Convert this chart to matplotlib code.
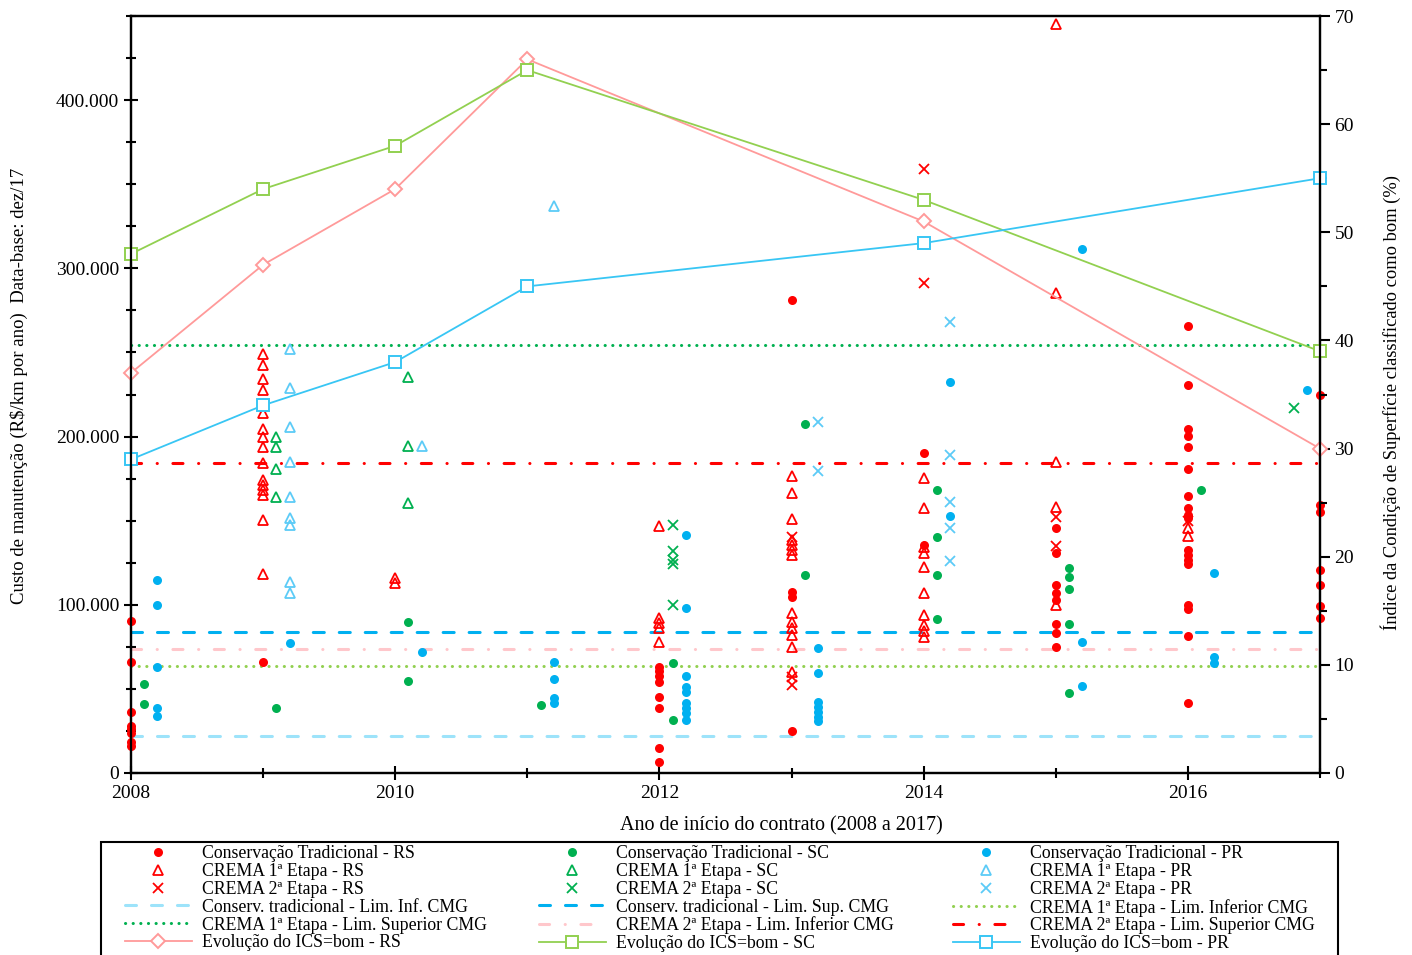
import matplotlib.pyplot as plt
from matplotlib.patches import Rectangle
from matplotlib.ticker import FuncFormatter, MultipleLocator

plt.rcParams['font.family'] = ['Liberation Serif', 'DejaVu Serif']

# custo de manutenção (milhares de R$/km por ano), por ano de início do contrato
rs_trad = {2008: [90.5, 66.1, 36.5, 28.2, 26.2, 23.6, 18.3, 16.3],
           2009: [66.1],
           2012: [63.1, 60.7, 57.7, 54.2, 45.2, 38.7, 14.9, 6.5],
           2013: [281.0, 107.7, 104.8, 25.0],
           2014: [190.5, 135.7],
           2015: [145.8, 131.0, 111.9, 107.1, 103.0, 88.7, 83.3, 75.0],
           2016: [265.5, 230.9, 204.2, 200.6, 194.0, 181.0, 164.9, 157.7, 153.6,
                  151.8, 132.7, 129.8, 126.8, 124.4, 100.0, 97.6, 81.5, 41.7],
           2017: [225.0, 159.5, 155.4, 120.8, 111.9, 99.4, 92.3]}
rs_crema1 = {2009: [248.8, 242.3, 234.5, 227.4, 219.6, 214.3, 204.2, 200.0, 194.0,
                    184.5, 174.4, 171.4, 168.5, 165.5, 150.6, 118.5],
             2010: [116.1, 113.1],
             2012: [147.0, 92.3, 89.3, 86.3, 78.0],
             2013: [176.8, 166.7, 151.2, 138.7, 135.7, 132.7, 129.8, 95.2, 89.9,
                    86.3, 82.1, 75.0, 60.1],
             2014: [175.6, 157.7, 134.5, 131.0, 122.6, 107.1, 94.0, 88.0, 84.5, 81.0],
             2015: [445.2, 285.1, 185.1, 158.3, 100.0],
             2016: [145.8, 141.1]}
rs_crema2 = {2013: [140.5, 57.1, 52.4],
             2014: [358.9, 291.0],
             2015: [152.4, 135.1],
             2016: [150.0]}

sc_trad = {2008: [52.8, 40.9],
           2009: [38.7],
           2010: [89.9, 54.8],
           2011: [40.5],
           2012: [65.5, 31.5],
           2013: [207.7, 117.9],
           2014: [168.5, 140.5, 117.5, 91.5],
           2015: [122.0, 116.7, 109.5, 88.7, 47.6],
           2016: [168.5]}
sc_crema1 = {2009: [200.0, 193.5, 181.0, 164.3],
             2010: [235.7, 194.6, 160.7]}
sc_crema2 = {2012: [147.6, 132.1, 126.8, 124.4, 100.0],
             2017: [216.7]}

pr_trad = {2008: [114.9, 99.6, 62.9, 38.5, 34.1],
           2009: [77.4],
           2010: [72.0],
           2011: [66.1, 56.0, 44.6, 41.7],
           2012: [141.7, 98.2, 57.7, 51.2, 48.2, 41.7, 38.7, 35.7, 31.5],
           2013: [74.4, 59.5, 42.3, 39.3, 36.3, 33.3, 31.0],
           2014: [232.7, 153.0],
           2015: [311.3, 78.0, 51.8],
           2016: [119.0, 69.0, 65.5],
           2017: [227.4]}
pr_crema1 = {2009: [251.8, 228.6, 205.4, 185.1, 164.3, 151.8, 147.6, 113.7, 107.1],
             2010: [194.6],
             2011: [336.9]}
pr_crema2 = {2013: [208.9, 179.8],
             2014: [267.9, 189.3, 161.3, 145.5, 125.9]}

# limites do custo médio global (CMG)
conserv_lim_inf = 22.0
conserv_lim_sup = 84.0
crema1_lim_inf = 63.5
crema1_lim_sup = 254.5
crema2_lim_inf = 74.0
crema2_lim_sup = 184.5

# ICS = bom (%)
ics_anos = [2008, 2009, 2010, 2011, 2014, 2017]
ics_rs = [37, 47, 54, 66, 51, 30]
ics_sc = [48, 54, 58, 65, 53, 39]
ics_pr = [29, 34, 38, 45, 49, 55]

RED = '#FF0000'
GREEN = '#00B050'
BLUE = '#00B0F0'
LBLUE = '#5CCBF7'


def pontos(serie, desloc):
    xs, ys = [], []
    for ano, vals in serie.items():
        d = desloc if ano < 2017 else (desloc - 0.3 if desloc else 0)
        xs += [ano + d] * len(vals)
        ys += vals
    return xs, ys


fig = plt.figure(figsize=(14.12, 9.55), dpi=100)
ax = fig.add_axes([0.0928, 0.1906, 0.8420, 0.7926])

hl = dict(lw=2.2, dash_capstyle='round', solid_capstyle='round')
h_cinf = ax.axhline(conserv_lim_inf, color='#9DE3FA', ls=(0, (3.6, 4.9)), **hl)
h_csup = ax.axhline(conserv_lim_sup, color=BLUE, ls=(0, (3.6, 4.9)), **hl)
h_c1inf = ax.axhline(crema1_lim_inf, color='#92D050', ls=(0, (0.05, 2.45)), **hl)
h_c1sup = ax.axhline(crema1_lim_sup, color=GREEN, ls=(0, (0.05, 2.45)), **hl)
h_c2inf = ax.axhline(crema2_lim_inf, color='#FFC7CB', ls=(0, (3.3, 5.1, 0.05, 5.1)), **hl)
h_c2sup = ax.axhline(crema2_lim_sup, color=RED, ls=(0, (3.3, 5.1, 0.05, 5.1)), **hl)

dot = dict(ls='none', marker='o', ms=6.5, mew=0, clip_on=False, zorder=4)
tri = dict(ls='none', marker='^', ms=7.5, mew=1.3, mfc='none', clip_on=False, zorder=4)
crs = dict(ls='none', marker='x', ms=7, mew=1.3, clip_on=False, zorder=4)

h_rs_t, = ax.plot(*pontos(rs_trad, 0), color=RED, **dot)
h_rs_1, = ax.plot(*pontos(rs_crema1, 0), mec=RED, color=RED, **tri)
h_rs_2, = ax.plot(*pontos(rs_crema2, 0), color=RED, **crs)
h_sc_t, = ax.plot(*pontos(sc_trad, 0.1), color=GREEN, **dot)
h_sc_1, = ax.plot(*pontos(sc_crema1, 0.1), mec=GREEN, color=GREEN, **tri)
h_sc_2, = ax.plot(*pontos(sc_crema2, 0.1), color=GREEN, **crs)
h_pr_t, = ax.plot(*pontos(pr_trad, 0.2), color=BLUE, **dot)
h_pr_1, = ax.plot(*pontos(pr_crema1, 0.2), mec=LBLUE, color=LBLUE, **tri)
h_pr_2, = ax.plot(*pontos(pr_crema2, 0.2), color=LBLUE, **crs)

ax.set_xlim(2008, 2017)
ax.set_ylim(0, 450)
ax.xaxis.set_major_locator(MultipleLocator(2))
ax.xaxis.set_minor_locator(MultipleLocator(1))
ax.yaxis.set_major_locator(MultipleLocator(100))
ax.yaxis.set_minor_locator(MultipleLocator(25))
ax.yaxis.set_major_formatter(FuncFormatter(
    lambda v, p: f'{v * 1000:,.0f}'.replace(',', '.')))
ax.tick_params(which='both', direction='inout', width=1.5, labelsize=14)
ax.tick_params(which='major', length=10)
ax.tick_params(which='minor', length=7)
ax.tick_params(axis='y', right=False)
for s in ax.spines.values():
    s.set_linewidth(1.6)

ax.set_xlabel('Ano de início do contrato (2008 a 2017)', fontsize=14.5)
ax.xaxis.set_label_coords(0.547, -0.057)
ax.set_ylabel('Custo de manutenção (R\\$/km por ano)  Data-base: dez/17', fontsize=13.5)
ax.yaxis.set_label_coords(-0.087, 0.511)

ax2 = ax.twinx()
ax2.set_ylim(0, 70)
ax2.yaxis.set_major_locator(MultipleLocator(10))
ax2.yaxis.set_minor_locator(MultipleLocator(5))
ax2.tick_params(which='both', direction='out', width=1.5, labelsize=14)
ax2.tick_params(which='major', length=7)
ax2.tick_params(which='minor', length=5)
for s in ax2.spines.values():
    s.set_linewidth(1.6)
ln = dict(lw=1.3, ms=8.5, mew=1.4, mfc='white', clip_on=False)
h_ics_rs, = ax2.plot(ics_anos, ics_rs, color='#FF9A9A', marker='D', **dict(ln, ms=7.5))
h_ics_sc, = ax2.plot(ics_anos, ics_sc, color='#92D050', marker='s', **ln)
h_ics_pr, = ax2.plot(ics_anos, ics_pr, color='#38C6F4', marker='s', **ln)
ax2.set_ylabel('Índice da Condição de Superfície classificado como bom (%)', fontsize=13.3)
ax2.yaxis.set_label_coords(1.051, 0.49)

# legenda em três colunas, cada uma ancorada na sua posição
colunas = [
    ([h_rs_t, h_rs_1, h_rs_2, h_cinf, h_c1sup, h_ics_rs],
     ['Conservação Tradicional - RS', 'CREMA 1ª Etapa - RS', 'CREMA 2ª Etapa - RS',
      'Conserv. tradicional - Lim. Inf. CMG', 'CREMA 1ª Etapa - Lim. Superior CMG',
      'Evolução do ICS=bom - RS']),
    ([h_sc_t, h_sc_1, h_sc_2, h_csup, h_c2inf, h_ics_sc],
     ['Conservação Tradicional - SC', 'CREMA 1ª Etapa - SC', 'CREMA 2ª Etapa - SC',
      'Conserv. tradicional - Lim. Sup. CMG', 'CREMA 2ª Etapa - Lim. Inferior CMG',
      'Evolução do ICS=bom - SC']),
    ([h_pr_t, h_pr_1, h_pr_2, h_c1inf, h_c2sup, h_ics_pr],
     ['Conservação Tradicional - PR', 'CREMA 1ª Etapa - PR', 'CREMA 2ª Etapa - PR',
      'CREMA 1ª Etapa - Lim. Inferior CMG', 'CREMA 2ª Etapa - Lim. Superior CMG',
      'Evolução do ICS=bom - PR']),
]
for i, (hs, labs) in enumerate(colunas):
    fig.legend(hs, labs, loc='upper left',
               bbox_to_anchor=((125 + 414 * i) / 1412, 1 - 845 / 955),
               fontsize=12.8, numpoints=1, handlelength=3.75, handletextpad=0.56,
               labelspacing=0.05, borderpad=0, borderaxespad=0, frameon=False)

fig.patches.append(Rectangle((101 / 1412, -0.02), (1338 - 101) / 1412, 0.02 + 113 / 955,
                             transform=fig.transFigure, fill=False, lw=1.5,
                             edgecolor='black'))

fig.savefig('out.png', dpi=100)
